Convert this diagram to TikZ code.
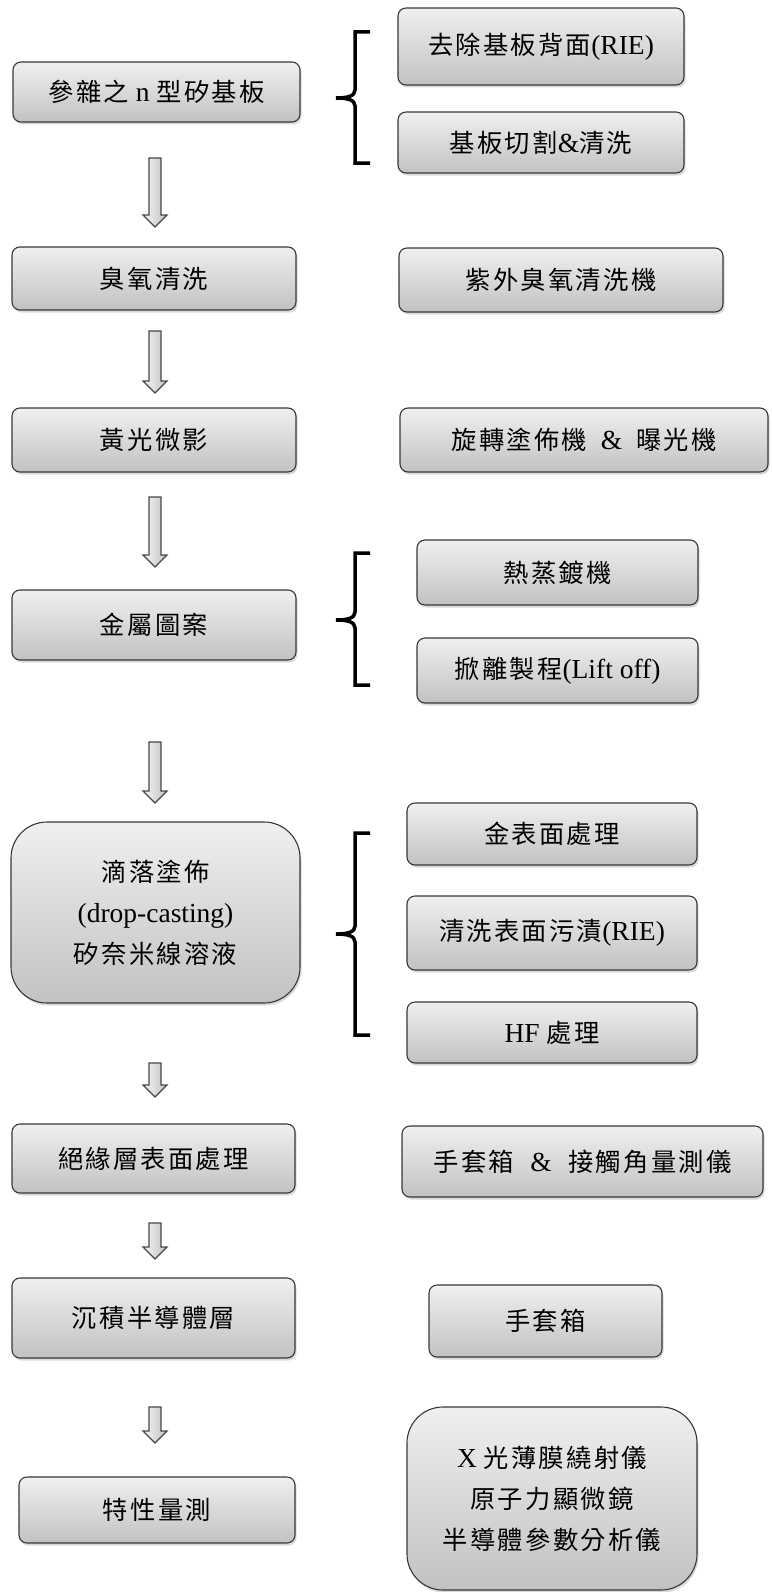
\documentclass[tikz,border=0pt]{standalone}
\usepackage{fontspec}
\setmainfont{Liberation Serif}
\newfontfamily\cjk[Scale=0.92,LetterSpace=9]{Noto Sans CJK TC}
\usetikzlibrary{shadows,calc}
\begin{document}
\begin{tikzpicture}[x=1pt,y=-1pt,
  box/.style={draw=black!78, line width=1.1pt, rounded corners=8pt,
    top color=black!6, bottom color=black!24,
    drop shadow={shadow xshift=1.5pt, shadow yshift=-2.5pt, opacity=0.3},
    align=center, inner sep=0pt, text=black,
    font=\fontsize{27.5}{41}\selectfont},
  bigbox/.style={box, rounded corners=36pt},
  brc/.style={line width=3.5pt, draw=black},
  blk/.style={draw=black!72, line width=1.1pt, left color=black!4, right color=black!24}]
\useasboundingbox (0,0) rectangle (771,1592);

% left column
\node[box, minimum width=287pt, minimum height=60pt] (b1) at (156.5,92) {{\cjk 參雜之} n {\cjk 型矽基板}};
\node[box, minimum width=284pt, minimum height=63pt] (b2) at (154,278.5) {{\cjk 臭氧清洗}};
\node[box, minimum width=284pt, minimum height=64pt] (b3) at (154,440) {{\cjk 黃光微影}};
\node[box, minimum width=284pt, minimum height=70pt] (b4) at (154,625) {{\cjk 金屬圖案}};
\node[bigbox, minimum width=289pt, minimum height=181pt] (b5) at (155.5,912.5) {{\cjk 滴落塗佈}\\(drop-casting)\\{\cjk 矽奈米線溶液}};
\node[box, minimum width=283pt, minimum height=69pt] (b6) at (153.5,1158.5) {{\cjk 絕緣層表面處理}};
\node[box, minimum width=283pt, minimum height=80pt] (b7) at (153.5,1318) {{\cjk 沉積半導體層}};
\node[box, minimum width=276pt, minimum height=66pt] (b8) at (157,1510) {{\cjk 特性量測}};

% right column
\node[box, minimum width=286pt, minimum height=77pt] (r1a) at (541,46.5) {{\cjk 去除基板背面}(RIE)};
\node[box, minimum width=286pt, minimum height=61pt] (r1b) at (541,142.5) {{\cjk 基板切割}\&{\cjk 清洗}};
\node[box, minimum width=324pt, minimum height=64pt] (r2) at (561,280) {{\cjk 紫外臭氧清洗機}};
\node[box, minimum width=368pt, minimum height=64pt] (r3) at (584,440) {{\cjk 旋轉塗佈機}\hspace{0.5em}\&\hspace{0.5em}{\cjk 曝光機}};
\node[box, minimum width=281pt, minimum height=65pt] (r4a) at (557.5,572.5) {{\cjk 熱蒸鍍機}};
\node[box, minimum width=281pt, minimum height=65pt] (r4b) at (557.5,670.5) {{\cjk 掀離製程}(Lift off)};
\node[box, minimum width=290pt, minimum height=62pt] (r5a) at (552,834) {{\cjk 金表面處理}};
\node[box, minimum width=290pt, minimum height=74pt] (r5b) at (552,933) {{\cjk 清洗表面污漬}(RIE)};
\node[box, minimum width=290pt, minimum height=61pt] (r5c) at (552,1032.5) {HF {\cjk 處理}};
\node[box, minimum width=361pt, minimum height=71pt] (r6) at (582.5,1161.5) {{\cjk 手套箱}\hspace{0.6em}\&\hspace{0.6em}{\cjk 接觸角量測儀}};
\node[box, minimum width=233pt, minimum height=72pt] (r7) at (545.5,1321) {{\cjk 手套箱}};
\node[bigbox, minimum width=290pt, minimum height=183pt] (r8) at (552,1498.5) {X {\cjk 光薄膜繞射儀}\\{\cjk 原子力顯微鏡}\\{\cjk 半導體參數分析儀}};

% braces
\foreach \t/\m/\b in {32/98/163, 553/620/685, 833/934/1035}
  \draw[brc] (370,\t) -- (355,\t) -- (355,\m-8) .. controls (355,\m-2) and (348,\m) .. (336,\m)
     .. controls (348,\m) and (355,\m+2) .. (355,\m+8) -- (355,\b) -- (370,\b);

% block arrows
\coordinate (a1s) at (155,158);  \coordinate (a1e) at (155,227);
\coordinate (a2s) at (155,331);  \coordinate (a2e) at (155,393);
\coordinate (a3s) at (155,497);  \coordinate (a3e) at (155,567);
\coordinate (a4s) at (155,742);  \coordinate (a4e) at (155,803);
\coordinate (a5s) at (155,1063); \coordinate (a5e) at (155,1097);
\coordinate (a6s) at (155,1223); \coordinate (a6e) at (155,1259);
\coordinate (a7s) at (155,1407); \coordinate (a7e) at (155,1443);
\foreach \s/\e in {a1s/a1e, a2s/a2e, a3s/a3e, a4s/a4e, a5s/a5e, a6s/a6e, a7s/a7e}
  \path[blk] ($(\s)+(-6,0)$) -- ($(\e)+(-6,-12)$) -- ($(\e)+(-12,-12)$) -- (\e)
     -- ($(\e)+(12,-12)$) -- ($(\e)+(6,-12)$) -- ($(\s)+(6,0)$) -- cycle;
\end{tikzpicture}
\end{document}
